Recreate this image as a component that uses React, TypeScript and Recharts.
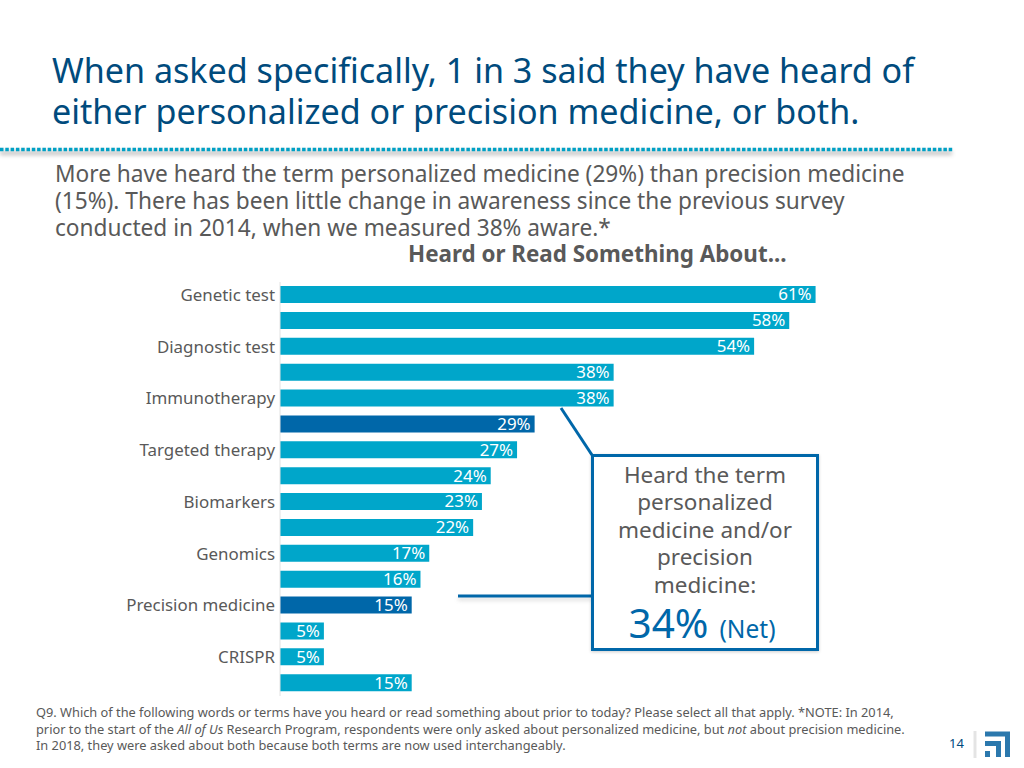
import React from 'react';
import { BarChart, Bar, XAxis, YAxis, LabelList, Cell } from 'recharts';

// only every other category is labelled in the source slide
const categories = [
  'Genetic test', '', 'Diagnostic test', '', 'Immunotherapy', '', 'Targeted therapy', '',
  'Biomarkers', '', 'Genomics', '', 'Precision medicine', '', 'CRISPR', '',
];
const values = [61, 58, 54, 38, 38, 29, 27, 24, 23, 22, 17, 16, 15, 5, 5, 15];
const highlighted = [5, 12];

const titleLines = [
  'When asked specifically, 1 in 3 said they have heard of',
  'either personalized or precision medicine, or both.',
];
const subtitleLines = [
  'More have heard the term personalized medicine (29%) than precision medicine',
  '(15%). There has been little change in awareness since the previous survey',
  'conducted in 2014, when we measured 38% aware.*',
];
const calloutLines = ['Heard the term', 'personalized', 'medicine and/or', 'precision', 'medicine:'];

const data = categories.map((name, i) => ({ name, value: values[i] }));

const FONT = '"Noto Sans", sans-serif';
const GREY = '#595959';
const TEAL = '#00a6ca';
const BLUE = '#0067a9';

const abs = (left: number, top: number): React.CSSProperties => ({
  position: 'absolute',
  left,
  top,
  whiteSpace: 'nowrap',
});

export default function App() {
  return (
    <div style={{ position: 'absolute', left: 0, top: 0, width: 1024, height: 768, background: '#fff', fontFamily: FONT, overflow: 'hidden' }}>
      {titleLines.map((t, i) => (
        <div key={t} style={{ ...abs(52, 50 + i * 41), fontSize: 34.1, lineHeight: '41px', color: '#004b7d' }}>{t}</div>
      ))}
      {subtitleLines.map((t, i) => (
        <div key={t} style={{ ...abs(55, 159.500 + i * 27.3), fontSize: 22.67, lineHeight: '27px', color: GREY }}>{t}</div>
      ))}
      <div style={{ ...abs(408, 241), fontSize: 22.4, lineHeight: '26px', fontWeight: 700, color: GREY }}>Heard or Read Something About...</div>

      <div style={{ position: 'absolute', left: 0, top: 0 }}>
        <BarChart
          width={1024}
          height={768}
          layout="vertical"
          data={data}
          barSize={17}
          margin={{ top: 282, right: 129.4, bottom: 72, left: 0 }}
        >
          <XAxis type="number" hide domain={[0, 70]} />
          <YAxis
            type="category"
            dataKey="name"
            width={280}
            interval={0}
            tickLine={false}
            tickSize={0}
            axisLine={{ stroke: '#e2e2e2' }}
            tickMargin={5}
            tick={{ fontSize: 16.9, fill: GREY, fontFamily: FONT }}
          />
          <Bar dataKey="value" fill={TEAL} isAnimationActive={false}>
            {data.map((d, i) => (
              <Cell key={i} fill={highlighted.includes(i) ? BLUE : TEAL} />
            ))}
            <LabelList
              dataKey="value"
              position="insideRight"
              offset={4}
              formatter={(v: number) => `${v}%`}
              style={{ fontSize: 16.9, fill: '#fff', fontFamily: FONT }}
            />
          </Bar>
        </BarChart>
      </div>

      {/* header rule, callout leaders and logo */}
      <svg width={1024} height={768} style={{ position: 'absolute', left: 0, top: 0, pointerEvents: 'none' }}>
        <defs>
          <filter id="soft" filterUnits="userSpaceOnUse" x={0} y={0} width={1024} height={768}>
            <feGaussianBlur stdDeviation="2" />
          </filter>
        </defs>
        <line x1={0} y1={153} x2={952} y2={153} stroke="#777" strokeWidth={4} opacity={0.45} filter="url(#soft)" />
        <line x1={0} y1={149.5} x2={954} y2={149.5} stroke="#00a0c4" strokeWidth={3.5} strokeDasharray="3.5 1.8" />
        <line x1={458} y1={599} x2={592} y2={599} stroke="#777" strokeWidth={2} opacity={0.4} filter="url(#soft)" />
        <line x1={561} y1={408} x2={592} y2={455} stroke={BLUE} strokeWidth={3} />
        <line x1={458} y1={596} x2={592} y2={596} stroke={BLUE} strokeWidth={3} />
        <line x1={975} y1={731} x2={975} y2={758} stroke="#e4e4e4" strokeWidth={3} />
        <path d="M985 731.5h25v25.5h-5v-20.500h-20z" fill="#2b78ad" />
        <path d="M985 741h16v16h-5v-11h-11z" fill="#2b78ad" />
        <rect x={985} y={751} width={5} height={6} fill="#2b78ad" />
      </svg>

      <div style={{ position: 'absolute', left: 591, top: 454, width: 228, height: 197, boxSizing: 'border-box', border: `3px solid ${BLUE}`, background: '#fff', textAlign: 'center', color: GREY, boxShadow: '0 1px 3px rgba(0,0,0,0.2)' }}>
        <div style={{ marginTop: 4, fontSize: 22.5, lineHeight: '27.4px' }}>
          {calloutLines.map((t) => <div key={t}>{t}</div>)}
        </div>
        <div style={{ color: BLUE, lineHeight: '48px', marginTop: 1, paddingRight: 6 }}>
          <span style={{ fontSize: 40.5 }}>34%</span>
          <span style={{ fontSize: 24.5, marginLeft: 11 }}>(Net)</span>
        </div>
      </div>

      <div style={{ ...abs(36, 704), fontSize: 12.8, lineHeight: '16.500px', color: GREY }}>
        Q9. Which of the following words or terms have you heard or read something about prior to today? Please select all that apply. *NOTE: In 2014,<br />
        prior to the start of the <i>All of Us</i> Research Program, respondents were only asked about personalized medicine, but <i>not</i> about precision medicine.<br />
        In 2018, they were asked about both because both terms are now used interchangeably.
      </div>
      <div style={{ ...abs(949, 735), fontSize: 13, lineHeight: '16px', color: '#004b7d' }}>14</div>
    </div>
  );
}
